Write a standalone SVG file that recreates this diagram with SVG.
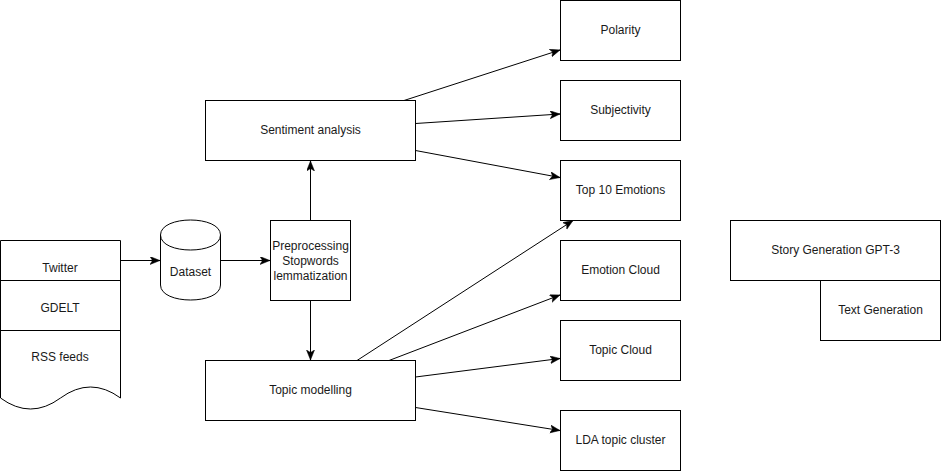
<svg xmlns="http://www.w3.org/2000/svg" width="941" height="471" viewBox="0 0 941 471">
  <style>
    .box { fill: #ffffff; stroke: #000000; stroke-width: 1; }
    .lbl { font-family: "Liberation Sans", Arial, Helvetica, sans-serif; font-size: 12px; fill: #1a1a1a; text-anchor: middle; }
    .edge { fill: none; stroke: #000000; stroke-width: 1; marker-end: url(#arrow); }
  </style>
  <defs>
    <marker id="arrow" markerUnits="userSpaceOnUse" markerWidth="11" markerHeight="9" refX="10" refY="4" orient="auto">
      <path d="M0,0 L10,4 L0,8 L2.5,4 Z" fill="#000000" stroke="#000000" stroke-width="0.5" stroke-linejoin="miter"/>
    </marker>
  </defs>
  <rect width="941" height="471" fill="#ffffff"/>

  <!-- data sources: document shape with three rows -->
  <g id="sources">
    <path class="box" d="M0.5,240.5 H120.5 V398 Q90.5,376 60.5,398 Q30.5,420 0.5,398 Z"/>
    <line x1="0.5" y1="280.5" x2="120.5" y2="280.5" stroke="#000" stroke-width="1"/>
    <line x1="0.5" y1="330.5" x2="120.5" y2="330.5" stroke="#000" stroke-width="1"/>
    <text class="lbl" x="60" y="272">Twitter</text>
    <text class="lbl" x="60" y="312">GDELT</text>
    <text class="lbl" x="60" y="361">RSS feeds</text>
  </g>

  <!-- dataset cylinder -->
  <g id="dataset">
    <path class="box" d="M160.5,235 C160.5,215 220.5,215 220.5,235 V285 C220.5,305 160.5,305 160.5,285 Z"/>
    <path d="M160.5,235 C160.5,255 220.5,255 220.5,235" fill="none" stroke="#000" stroke-width="1"/>
    <text class="lbl" x="190.5" y="276">Dataset</text>
  </g>

  <g id="preprocessing">
    <rect class="box" x="270.5" y="220.5" width="80" height="80"/>
    <text class="lbl" x="310.5" y="250">Preprocessing</text>
    <text class="lbl" x="310.5" y="265">Stopwords</text>
    <text class="lbl" x="310.5" y="280">lemmatization</text>
  </g>

  <g id="sentiment">
    <rect class="box" x="205.5" y="100.5" width="210" height="60"/>
    <text class="lbl" x="310.5" y="134">Sentiment analysis</text>
  </g>

  <g id="topic-modelling">
    <rect class="box" x="205.5" y="360.5" width="210" height="60"/>
    <text class="lbl" x="310.5" y="394">Topic modelling</text>
  </g>

  <g id="polarity">
    <rect class="box" x="560.5" y="0.5" width="120" height="60"/>
    <text class="lbl" x="620.5" y="34">Polarity</text>
  </g>
  <g id="subjectivity">
    <rect class="box" x="560.5" y="80.5" width="120" height="60"/>
    <text class="lbl" x="620.5" y="114">Subjectivity</text>
  </g>
  <g id="top-emotions">
    <rect class="box" x="560.5" y="160.5" width="120" height="60"/>
    <text class="lbl" x="620.5" y="194">Top 10 Emotions</text>
  </g>
  <g id="emotion-cloud">
    <rect class="box" x="560.5" y="240.5" width="120" height="60"/>
    <text class="lbl" x="620.5" y="274">Emotion Cloud</text>
  </g>
  <g id="topic-cloud">
    <rect class="box" x="560.5" y="320.5" width="120" height="60"/>
    <text class="lbl" x="620.5" y="354">Topic Cloud</text>
  </g>
  <g id="lda-cluster">
    <rect class="box" x="560.5" y="410.5" width="120" height="60"/>
    <text class="lbl" x="620.5" y="444">LDA topic cluster</text>
  </g>

  <g id="story-generation">
    <rect class="box" x="730.5" y="220.5" width="210" height="60"/>
    <text class="lbl" x="835.5" y="254">Story Generation GPT-3</text>
  </g>
  <g id="text-generation">
    <rect class="box" x="820.5" y="280.5" width="120" height="60"/>
    <text class="lbl" x="880.5" y="314">Text Generation</text>
  </g>

  <!-- connectors -->
  <g id="connectors">
    <line class="edge" x1="120.5" y1="260.5" x2="160" y2="260.5"/>
    <line class="edge" x1="220.5" y1="260.5" x2="270" y2="260.5"/>
    <line class="edge" x1="310.5" y1="220.5" x2="310.5" y2="161"/>
    <line class="edge" x1="310.5" y1="300.5" x2="310.5" y2="360"/>
    <line class="edge" x1="404" y1="100.5" x2="560" y2="50"/>
    <line class="edge" x1="415.5" y1="123.5" x2="560" y2="114"/>
    <line class="edge" x1="415.5" y1="150.5" x2="560" y2="177.5"/>
    <line class="edge" x1="357" y1="360.5" x2="573" y2="220.5"/>
    <line class="edge" x1="389" y1="360.5" x2="560" y2="295"/>
    <line class="edge" x1="415.5" y1="377" x2="560" y2="358.5"/>
    <line class="edge" x1="415.5" y1="407.5" x2="560" y2="430.5"/>
  </g>
</svg>
